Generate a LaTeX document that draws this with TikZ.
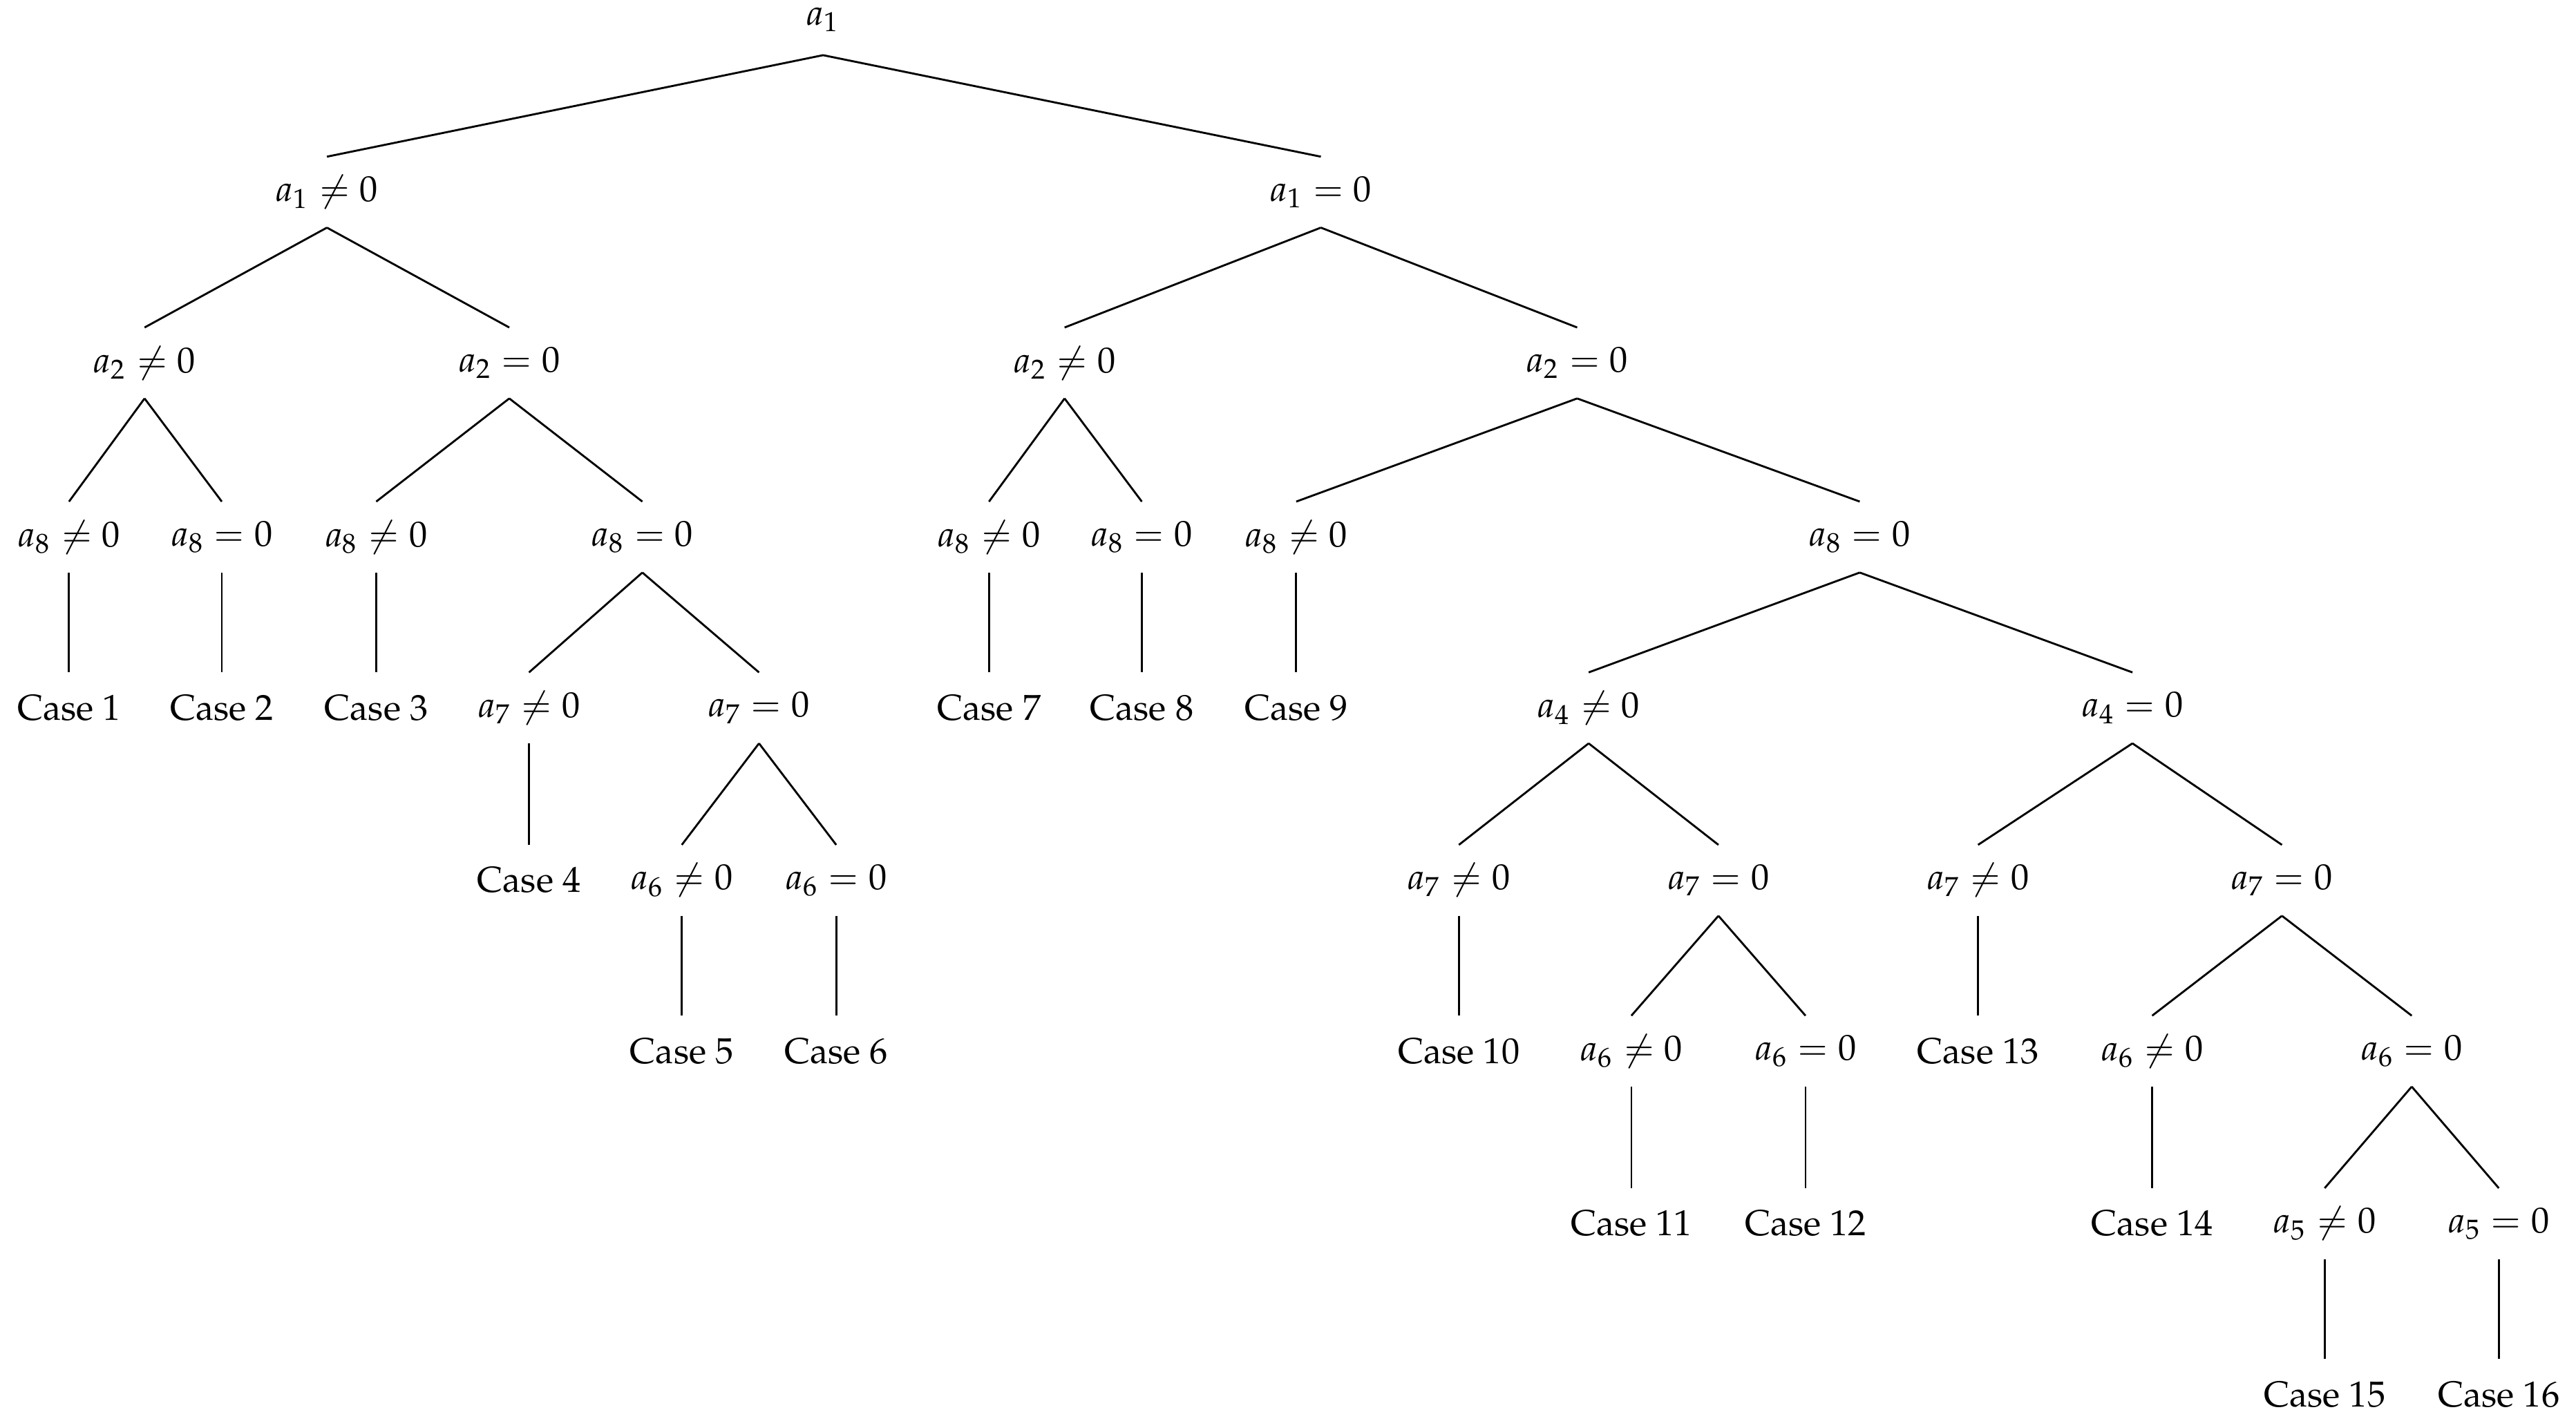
\documentclass[tikz,border=0pt]{standalone}
\usepackage[T1]{fontenc}
\usepackage{mathpazo}
\begin{document}
\begin{tikzpicture}[x=0.5pt,y=-0.5pt,
  nd/.style={inner sep=0pt,minimum height=21pt,font=\fontsize{11}{13}\selectfont},
  every path/.style={line width=0.6pt}]
\useasboundingbox (0,0) rectangle (1568,865);
\node[nd] (r) at (501,12) {$a_1$};
\node[nd] (A) at (199,117) {$a_1\neq0$};
\node[nd] (B) at (804,117) {$a_1=0$};
\node[nd] (A1) at (88,221) {$a_2\neq0$};
\node[nd] (A2) at (310,221) {$a_2=0$};
\node[nd] (B1) at (648,221) {$a_2\neq0$};
\node[nd] (B2) at (960,221) {$a_2=0$};
\node[nd] (A11) at (42,327) {$a_8\neq0$};
\node[nd] (A12) at (135,327) {$a_8=0$};
\node[nd] (A21) at (229,327) {$a_8\neq0$};
\node[nd] (A22) at (391,327) {$a_8=0$};
\node[nd] (B11) at (602,327) {$a_8\neq0$};
\node[nd] (B12) at (695,327) {$a_8=0$};
\node[nd] (B21) at (789,327) {$a_8\neq0$};
\node[nd] (B22) at (1132,327) {$a_8=0$};
\node[nd] (c1) at (42,431) {Case 1};
\node[nd] (c2) at (135,431) {Case 2};
\node[nd] (c3) at (229,431) {Case 3};
\node[nd] (A221) at (322,431) {$a_7\neq0$};
\node[nd] (A222) at (462,431) {$a_7=0$};
\node[nd] (c7) at (602,431) {Case 7};
\node[nd] (c8) at (695,431) {Case 8};
\node[nd] (c9) at (789,431) {Case 9};
\node[nd] (B221) at (967,431) {$a_4\neq0$};
\node[nd] (B222) at (1298,431) {$a_4=0$};
\node[nd] (c4) at (322,536) {Case 4};
\node[nd] (A2221) at (415,536) {$a_6\neq0$};
\node[nd] (A2222) at (509,536) {$a_6=0$};
\node[nd] (B2211) at (888,536) {$a_7\neq0$};
\node[nd] (B2212) at (1046,536) {$a_7=0$};
\node[nd] (B2221) at (1204,536) {$a_7\neq0$};
\node[nd] (B2222) at (1389,536) {$a_7=0$};
\node[nd] (c5) at (415,640) {Case 5};
\node[nd] (c6) at (509,640) {Case 6};
\node[nd] (c10) at (888,640) {Case 10};
\node[nd] (B22121) at (993,640) {$a_6\neq0$};
\node[nd] (B22122) at (1099,640) {$a_6=0$};
\node[nd] (c13) at (1204,640) {Case 13};
\node[nd] (B22221) at (1310,640) {$a_6\neq0$};
\node[nd] (B22222) at (1468,640) {$a_6=0$};
\node[nd] (c11) at (993,745) {Case 11};
\node[nd] (c12) at (1099,745) {Case 12};
\node[nd] (c14) at (1310,745) {Case 14};
\node[nd] (E1) at (1415,745) {$a_5\neq0$};
\node[nd] (E2) at (1521,745) {$a_5=0$};
\node[nd] (c15) at (1415,849) {Case 15};
\node[nd] (c16) at (1521,849) {Case 16};
\foreach \p/\c in {r/A,r/B,A/A1,A/A2,B/B1,B/B2,A1/A11,A1/A12,A2/A21,A2/A22,B1/B11,B1/B12,B2/B21,B2/B22,
  A11/c1,A12/c2,A21/c3,A22/A221,A22/A222,B11/c7,B12/c8,B21/c9,B22/B221,B22/B222,
  A221/c4,A222/A2221,A222/A2222,B221/B2211,B221/B2212,B222/B2221,B222/B2222,
  A2221/c5,A2222/c6,B2211/c10,B2212/B22121,B2212/B22122,B2221/c13,B2222/B22221,B2222/B22222,
  B22121/c11,B22122/c12,B22221/c14,B22222/E1,B22222/E2,E1/c15,E2/c16}
  \draw (\p.south) -- (\c.north);
\end{tikzpicture}
\end{document}
